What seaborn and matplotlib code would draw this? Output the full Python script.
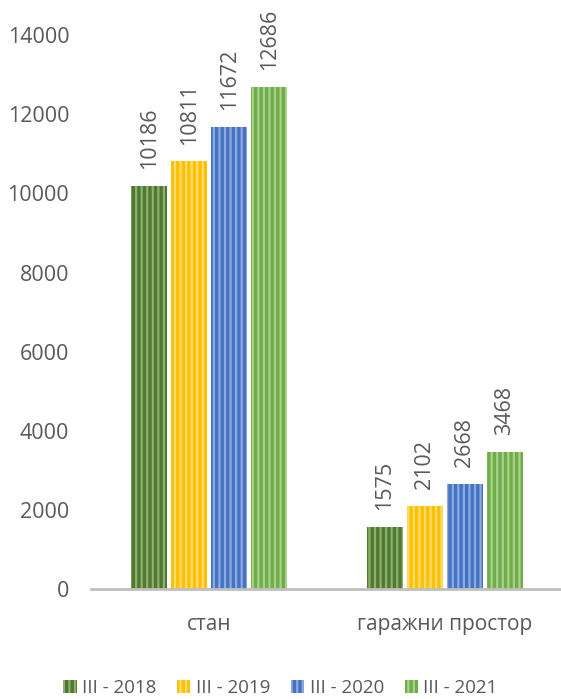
import matplotlib
matplotlib.use("Agg")
import matplotlib.pyplot as plt
import seaborn as sns
import pandas as pd

categories = ["стан", "гаражни простор"]
series = ["III - 2018", "III - 2019", "III - 2020", "III - 2021"]
values_2018 = [10186, 1575]
values_2019 = [10811, 2102]
values_2020 = [11672, 2668]
values_2021 = [12686, 3468]
yticks = [0, 2000, 4000, 6000, 8000, 10000, 12000, 14000]

fill_colors = ["#4F7A2C", "#FFC000", "#4472C4", "#70AD47"]
stripe_colors = ["#8DAE74", "#FFDB73", "#8FAADD", "#A9D18E"]

rows = []
for s, vals in zip(series, [values_2018, values_2019, values_2020, values_2021]):
    for c, v in zip(categories, vals):
        rows.append({"category": c, "series": s, "value": v})
df = pd.DataFrame(rows)

sns.set_style("white")
plt.rcParams["font.family"] = ["Open Sans", "DejaVu Sans"]
plt.rcParams["hatch.linewidth"] = 1.6

text_color = "#595959"
fig = plt.figure(figsize=(5.61, 6.99), dpi=100)
ax = fig.add_axes([0.163, 0.157, 0.84, 0.793])

sns.barplot(data=df, x="category", y="value", hue="series", order=categories,
            hue_order=series, palette=fill_colors, width=0.68, gap=0.1,
            saturation=1, ax=ax, legend=True)

for cont, fc, sc in zip(ax.containers, fill_colors, stripe_colors):
    for bar in cont:
        bar.set_facecolor(fc)
        bar.set_edgecolor(sc)
        bar.set_linewidth(0)
        bar.set_hatch("|||")
    ax.bar_label(cont, labels=[f"{int(v)}" for v in cont.datavalues],
                 rotation=90, padding=12, fontsize=15.5, color=text_color)

ax.set_ylim(0, 14000)
ax.set_xlim(-0.5, 1.5)
ax.set_yticks(yticks)
ax.set_yticklabels([str(t) for t in yticks], fontsize=15.5, color=text_color)
ax.tick_params(axis="y", length=0, pad=16)
ax.tick_params(axis="x", length=0, pad=18, labelsize=15, labelcolor=text_color)
ax.set_xlabel("")
ax.set_ylabel("")
for side in ["top", "right", "left"]:
    ax.spines[side].set_visible(False)
ax.spines["bottom"].set_color("#BFBFBF")
ax.spines["bottom"].set_linewidth(2)

handles, labels = ax.get_legend_handles_labels()
for h, fc, sc in zip(handles, fill_colors, stripe_colors):
    h.set_facecolor(fc)
    h.set_edgecolor(sc)
    h.set_linewidth(0)
    h.set_hatch("|||")
ax.legend(handles, labels, loc="center", bbox_to_anchor=(0.5, 1 - 688 / 699),
          bbox_transform=fig.transFigure, ncol=4, frameon=False,
          fontsize=13.5, labelcolor=text_color,
          handlelength=0.7, handleheight=0.7, handletextpad=0.3,
          columnspacing=1.1)

fig.savefig("out.png", dpi=100)
